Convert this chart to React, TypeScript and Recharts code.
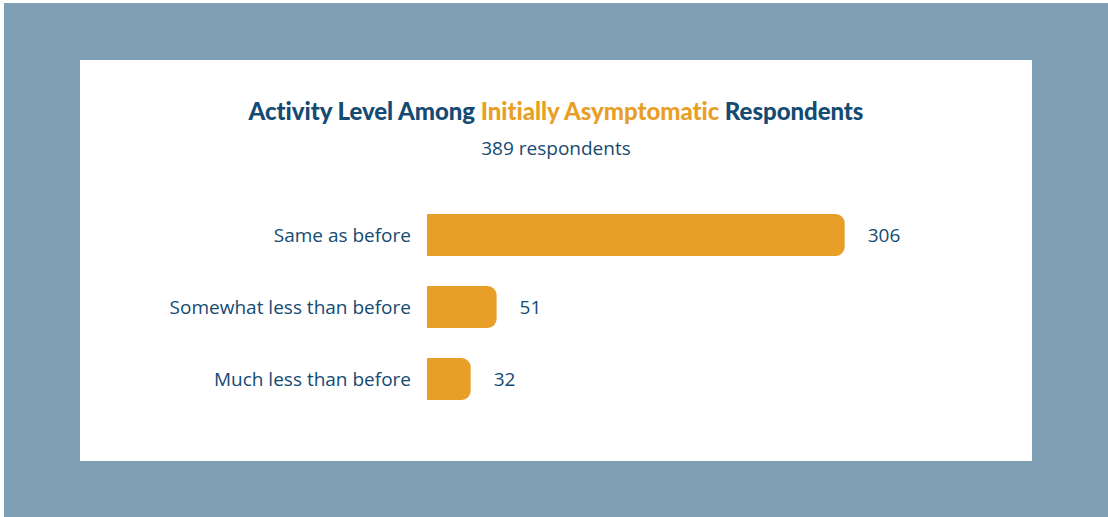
import React from "react";
import { BarChart, Bar, XAxis, YAxis, LabelList } from "recharts";

// Survey responses: activity level among initially asymptomatic respondents
const categories = ["Same as before", "Somewhat less than before", "Much less than before"];
const counts = [306, 51, 32];
const totalRespondents = 389;

const data = categories.map((name, i) => ({ name, value: counts[i] }));

const NAVY = "#154a72";
const ORANGE = "#e89f27";
const FRAME = "#7f9fb5";

export default function App() {
  return (
    <div
      style={{
        position: "absolute",
        left: 0,
        top: 0,
        width: 1108,
        height: 517,
        background: "#ffffff",
        overflow: "hidden",
      }}
    >
      <div
        style={{
          position: "absolute",
          left: 4,
          top: 3,
          width: 1104,
          height: 514,
          background: FRAME,
        }}
      />
      <div
        style={{
          position: "absolute",
          left: 80,
          top: 60,
          width: 952,
          height: 401,
          background: "#ffffff",
        }}
      >
        <div
          style={{
            position: "absolute",
            left: 0,
            top: 36,
            width: 952,
            textAlign: "center",
            fontFamily: "Lato, sans-serif",
            fontWeight: 900,
            fontSize: 24,
            lineHeight: "30px",
            color: NAVY,
            letterSpacing: -0.05,
          }}
        >
          Activity Level Among <span style={{ color: ORANGE }}>Initially Asymptomatic</span> Respondents
        </div>
        <div
          style={{
            position: "absolute",
            left: 0,
            top: 75,
            width: 952,
            textAlign: "center",
            fontFamily: "'Open Sans', sans-serif",
            fontSize: 19,
            lineHeight: "26px",
            color: NAVY,
          }}
        >
          {totalRespondents} respondents
        </div>
        <div style={{ position: "absolute", left: 0, top: 0 }}>
          <BarChart
            width={952}
            height={401}
            data={data}
            layout="vertical"
            margin={{ top: 139, right: 59, bottom: 46, left: 0 }}
            barCategoryGap={15}
          >
            <XAxis type="number" domain={[0, 400]} hide />
            <YAxis
              type="category"
              dataKey="name"
              width={347}
              axisLine={false}
              tickLine={false}
              tickSize={0}
              tickMargin={16}
              tick={{
                fill: NAVY,
                fontSize: 19,
                fontFamily: "'Open Sans', sans-serif",
              }}
            />
            <Bar
              dataKey="value"
              fill={ORANGE}
              barSize={42}
              radius={[0, 9, 9, 0]}
              isAnimationActive={false}
            >
              <LabelList
                dataKey="value"
                position="right"
                offset={23}
                fill={NAVY}
                fontSize={19}
                fontFamily="'Open Sans', sans-serif"
              />
            </Bar>
          </BarChart>
        </div>
      </div>
    </div>
  );
}
